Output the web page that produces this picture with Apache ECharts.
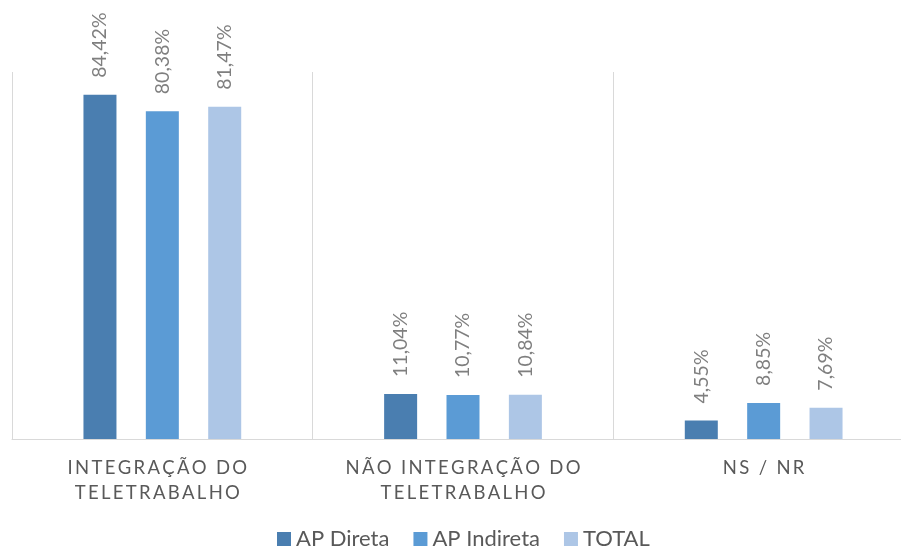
<!DOCTYPE html>
<html>
<head>
<meta charset="utf-8">
<script src="https://cdn.jsdelivr.net/npm/echarts@6/dist/echarts.min.js"></script>
<style>
  html, body { margin: 0; padding: 0; background: #ffffff; overflow: hidden; }
  /* the plot runs past the right edge of the window, so the last category boundary is off-screen */
  #chart { width: 914px; height: 547px; }
</style>
</head>
<body>
<div id="chart"></div>
<script>
// Teleworking integration survey: share of answers by public administration type
const categories = ['INTEGRAÇÃO DO\nTELETRABALHO', 'NÃO INTEGRAÇÃO DO\nTELETRABALHO', 'NS / NR'];
const seriesNames = ['AP Direta', 'AP Indireta', 'TOTAL'];
const apDireta = [84.42, 11.04, 4.55];
const apIndireta = [80.38, 10.77, 8.85];
const total = [81.47, 10.84, 7.69];
const colors = ['#4a7eb0', '#5b9bd5', '#adc6e6'];

const FONT = 'Lato';

// Spread the letters of each line apart, like wide character spacing
function spaced(text) {
  return text.split('\n').map(line => line.split('').join('\u2009')).join('\n');
}

// The first category label sits a little left of its slot centre
const categoryData = categories.map((c, i) => (
  i === 0 ? { value: c, textStyle: { padding: [0, 10, 0, 0] } } : c
));

function barSeries(name, values, color) {
  return {
    name: name,
    type: 'bar',
    data: values,
    barWidth: 33,
    barGap: '89%',
    itemStyle: { color: color },
    label: {
      show: true,
      position: 'top',
      rotate: 90,
      align: 'left',
      verticalAlign: 'middle',
      distance: 17,
      color: '#7f7f7f',
      fontFamily: FONT,
      fontSize: 19.5,
      formatter: p => p.value.toFixed(2).replace('.', ',') + '%'
    }
  };
}

const chart = echarts.init(document.getElementById('chart'));
chart.setOption({
  animation: false,
  backgroundColor: '#ffffff',
  textStyle: { fontFamily: FONT },
  grid: { left: 12, right: 0, top: 72, height: 367, containLabel: false },
  xAxis: {
    type: 'category',
    data: categoryData,
    boundaryGap: true,
    axisLine: { show: true, lineStyle: { color: '#d9d9d9', width: 1 } },
    axisTick: { show: false },
    splitLine: { show: true, interval: 0, lineStyle: { color: '#d9d9d9', width: 1 } },
    axisLabel: {
      interval: 0,
      margin: 17,
      color: '#595959',
      fontFamily: FONT,
      fontSize: 18.5,
      lineHeight: 25,
      formatter: v => spaced(v)
    }
  },
  yAxis: {
    type: 'value',
    min: 0,
    max: 90,
    show: false,
    splitLine: { show: false }
  },
  legend: {
    data: seriesNames,
    top: 528,
    left: 277,
    padding: 0,
    itemWidth: 14,
    itemHeight: 14,
    itemGap: 24,
    icon: 'rect',
    textStyle: { color: '#595959', fontFamily: FONT, fontSize: 22 }
  },
  series: [
    barSeries(seriesNames[0], apDireta, colors[0]),
    barSeries(seriesNames[1], apIndireta, colors[1]),
    barSeries(seriesNames[2], total, colors[2])
  ]
});
</script>
</body>
</html>
